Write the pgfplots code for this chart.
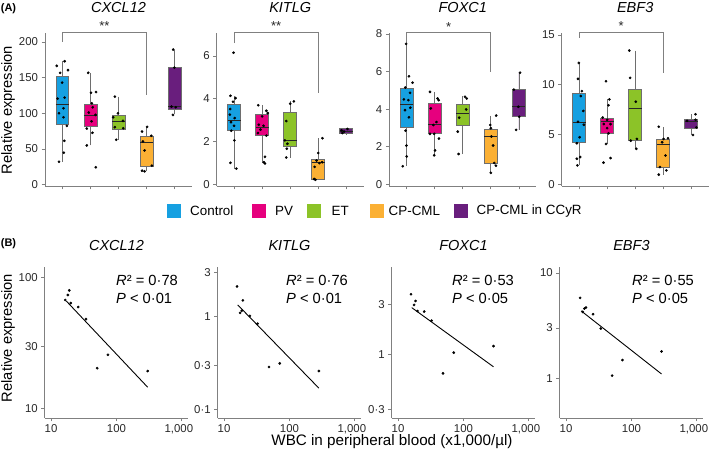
\documentclass[border=0pt]{standalone}
\usepackage{pgfplots}
\pgfplotsset{compat=1.18}
\usepgfplotslibrary{statistics}
\usepackage{fontspec}
\setmainfont{Liberation Sans}
\definecolor{ctrl}{RGB}{22,160,225}
\definecolor{pv}{RGB}{230,0,126}
\definecolor{et}{RGB}{140,195,40}
\definecolor{cml}{RGB}{251,176,52}
\definecolor{ccyr}{RGB}{105,30,125}
\definecolor{axgray}{RGB}{128,128,128}
\definecolor{boxgray}{RGB}{110,110,110}
\definecolor{tickc}{RGB}{40,40,40}
\newcommand\tickfont{\fontsize{11.4bp}{13bp}\selectfont}
\newcommand\titlefont{\fontsize{14.5bp}{17bp}\selectfont\itshape}
\newcommand\labfont{\fontsize{14.7bp}{17bp}\selectfont}
\newcommand\legfont{\fontsize{13.4bp}{16bp}\selectfont}
\newcommand\starfont{\fontsize{13bp}{15bp}\selectfont}
\pgfplotsset{
  myBase/.style={scale only axis, axis lines=left,
    axis line style={-, draw=axgray, line width=0.8bp},
    tick style={draw=axgray, line width=0.8bp}, tick align=outside,
    major tick length=3.5bp, clip=false,
    tick label style={font=\tickfont, text=tickc}},
  myA/.style={myBase, width=147bp, height=153bp, xmin=0.38, xmax=5.62,
    xtick={1,2,3,4,5}, xticklabels={},
    every axis title/.style={at={(0.5,1)}, anchor=center, font=\titlefont, yshift=25.5bp},
    boxplot/draw direction=y,
    boxplot/box extend=0.46, boxplot/whisker extend=0,
    boxplot/every median/.style={draw=black!85, line width=0.8bp},
    boxplot/every whisker/.style={draw=boxgray, line width=0.8bp},
    boxplot/every box/.style={draw=boxgray, line width=0.8bp}},
  myB/.style={myBase, width=143.5bp, height=151bp,
    xmin=8, xmax=1250, xtick={10,100,1000}, xticklabels={10,100,{1,000\kern6bp}},
    xminorticks=false, yminorticks=false,
    every axis title/.style={at={(0.5,1)}, anchor=center, font=\titlefont, yshift=21.5bp}},
  myDots/.style={only marks, mark=*, mark size=1.15bp, draw=black, fill=black},
  myFit/.style={black, line width=0.9bp, no marks},
}
\begin{document}
\begin{tikzpicture}
\path[use as bounding box] (0bp,0bp) rectangle (709bp,460bp);

% ================= Panel A =================
\begin{axis}[myA, at={(45bp,274bp)}, anchor=south west, title={CXCL12},
  ymin=-2, ymax=212.6, ytick={0,50,100,150,200}, yticklabels={0,50,100,150,200}]
\addplot[boxplot prepared={median=112.6, upper quartile=152, lower quartile=84.7, upper whisker=173, lower whisker=32, draw position=1}, fill=ctrl, draw=boxgray] coordinates {};
\addplot[boxplot prepared={median=97.2, upper quartile=112.6, lower quartile=81.4, upper whisker=156.7, lower whisker=54.9, draw position=2}, fill=pv, draw=boxgray] coordinates {};
\addplot[boxplot prepared={median=88.8, upper quartile=97.7, lower quartile=77.7, upper whisker=123.3, lower whisker=62.8, draw position=3}, fill=et, draw=boxgray] coordinates {};
\addplot[boxplot prepared={median=59.5, upper quartile=67.4, lower quartile=25.6, upper whisker=81.4, lower whisker=18.6, draw position=4}, fill=cml, draw=boxgray] coordinates {};
\addplot[boxplot prepared={median=109.3, upper quartile=163.7, lower quartile=106, upper whisker=189.3, lower whisker=98.6, draw position=5}, fill=ccyr, draw=boxgray] coordinates {};
\addplot[myDots] coordinates {(0.80,166.5)(1.08,173)(1.20,160.5)(0.92,156.7)(0.99,143)(1.08,122)(0.83,120.5)(1.04,107)(1.04,94.4)(0.88,100)(1.16,82.3)(1.07,61.4)(1.05,44.7)(0.88,32)};
\addplot[myDots] coordinates {(1.92,156.7)(2.02,128.8)(2.20,129.8)(2.05,114)(2.08,108.4)(1.94,101)(2.18,97.7)(2.04,88.8)(1.87,78.6)(2.07,72.6)(1.87,54.9)(2.19,24.2)};
\addplot[myDots] coordinates {(2.87,123.3)(2.98,100)(2.81,94.4)(3.16,89.3)(2.87,80.5)(2.92,62.8)(3.17,79)};
\addplot[myDots] coordinates {(4.02,81)(3.84,74.4)(4.17,68.4)(3.87,60.5)(3.93,47.9)(4.19,26.5)(3.93,18.6)(3.84,19.5)};
\addplot[myDots] coordinates {(4.95,189.3)(4.99,164)(4.89,109.3)(5.04,108.4)(4.94,97.7)};
\draw[axgray, line width=0.8bp] (axis cs:1,200) -- (axis cs:1,214) -- (axis cs:4,214) -- (axis cs:4,125.6);
\node[anchor=base, inner sep=0pt, font=\starfont, text=tickc, yshift=1bp] at (axis cs:2.5,214) {**};
\end{axis}

\begin{axis}[myA, at={(216.7bp,274bp)}, anchor=south west, title={KITLG},
  ymin=-0.07, ymax=7.07, ytick={0,2,4,6}, yticklabels={0,2,4,6}]
\addplot[boxplot prepared={median=2.98, upper quartile=3.75, lower quartile=2.53, upper whisker=4.14, lower whisker=0.74, draw position=1}, fill=ctrl, draw=boxgray] coordinates {};
\addplot[boxplot prepared={median=2.67, upper quartile=3.26, lower quartile=2.28, upper whisker=3.7, lower whisker=0.98, draw position=2}, fill=pv, draw=boxgray] coordinates {};
\addplot[boxplot prepared={median=2.05, upper quartile=3.36, lower quartile=1.78, upper whisker=3.88, lower whisker=1.24, draw position=3}, fill=et, draw=boxgray] coordinates {};
\addplot[boxplot prepared={median=1.04, upper quartile=1.15, lower quartile=0.26, upper whisker=2.16, lower whisker=0.22, draw position=4}, fill=cml, draw=boxgray] coordinates {};
\addplot[boxplot prepared={median=2.48, upper quartile=2.6, lower quartile=2.37, upper whisker=2.64, lower whisker=2.36, draw position=5}, fill=ccyr, draw=boxgray] coordinates {};
\addplot[myDots] coordinates {(0.98,6.15)(0.87,4.14)(1.05,4.03)(0.96,3.86)(0.86,3.52)(0.85,3.26)(1.02,3.1)(0.89,2.91)(1.0,2.74)(0.9,2.51)(1.01,2.06)(0.87,1.01)(1.08,0.74)};
\addplot[myDots] coordinates {(1.86,3.7)(2.15,3.44)(2.2,3.33)(2.0,3.18)(1.88,2.79)(2.05,2.74)(1.94,2.56)(1.85,2.4)(2.15,2.28)(2.1,1.29)(2.06,1.04)(2.1,0.98)};
\addplot[myDots] coordinates {(3.13,3.88)(3.0,3.77)(2.86,2.96)(2.81,2.06)(2.9,1.9)(2.88,1.67)(2.86,1.26)};
\addplot[myDots] coordinates {(4.15,2.16)(4.0,1.47)(3.94,1.12)(4.14,1.04)(4.04,1.0)(3.87,0.82)(3.85,0.26)(3.9,0.22)};
\addplot[myDots] coordinates {(4.83,2.53)(5.04,2.59)(4.92,2.47)(4.86,2.4)};
\draw[axgray, line width=0.8bp] (axis cs:1,6.6) -- (axis cs:1,7.12) -- (axis cs:4,7.12) -- (axis cs:4,4.27);
\node[anchor=base, inner sep=0pt, font=\starfont, text=tickc, yshift=1bp] at (axis cs:2.5,7.12) {**};
\end{axis}

\begin{axis}[myA, at={(389.3bp,274bp)}, anchor=south west, title={FOXC1},
  ymin=-0.08, ymax=8.05, ytick={0,2,4,6,8}, yticklabels={0,2,4,6,8}]
\addplot[boxplot prepared={median=4.25, upper quartile=5.1, lower quartile=3.04, upper whisker=7.47, lower whisker=0.97, draw position=1}, fill=ctrl, draw=boxgray] coordinates {};
\addplot[boxplot prepared={median=3.2, upper quartile=4.31, lower quartile=2.69, upper whisker=4.92, lower whisker=1.55, draw position=2}, fill=pv, draw=boxgray] coordinates {};
\addplot[boxplot prepared={median=3.78, upper quartile=4.25, lower quartile=3.13, upper whisker=4.69, lower whisker=1.62, draw position=3}, fill=et, draw=boxgray] coordinates {};
\addplot[boxplot prepared={median=2.55, upper quartile=2.95, lower quartile=1.14, upper whisker=3.66, lower whisker=0.62, draw position=4}, fill=cml, draw=boxgray] coordinates {};
\addplot[boxplot prepared={median=4.13, upper quartile=5.04, lower quartile=3.6, upper whisker=5.94, lower whisker=2.9, draw position=5}, fill=ccyr, draw=boxgray] coordinates {};
\addplot[myDots] coordinates {(0.98,7.47)(1.08,5.75)(1.21,5.41)(0.95,5.15)(1.12,4.87)(0.9,4.52)(1.06,4.48)(1.13,4.08)(0.94,3.95)(1.08,3.57)(0.96,2.86)(0.99,2.07)(1.0,1.49)(0.86,0.97)};
\addplot[myDots] coordinates {(1.83,4.92)(2.1,4.57)(2.14,4.48)(1.86,4.04)(2.06,3.32)(1.95,3.16)(1.83,2.69)(1.98,2.69)(2.15,2.44)(2.01,1.81)(1.98,1.55)};
\addplot[myDots] coordinates {(3.08,4.66)(3.14,4.57)(3.12,3.99)(2.87,3.55)(2.82,2.81)(2.85,1.62)};
\addplot[myDots] coordinates {(4.19,3.66)(3.98,3.16)(4.0,2.99)(4.02,2.55)(4.08,2.07)(4.12,1.14)(4.18,1.0)(4.0,0.62)};
\addplot[myDots] coordinates {(5.04,5.94)(4.82,5.04)(4.98,4.13)(5.01,3.6)(4.9,2.9)};
\draw[axgray, line width=0.8bp] (axis cs:1,7.52) -- (axis cs:1,8.1) -- (axis cs:4,8.1) -- (axis cs:4,5.99);
\node[anchor=base, inner sep=0pt, font=\starfont, text=tickc, yshift=1bp] at (axis cs:2.5,8.1) {*};
\end{axis}

\begin{axis}[myA, at={(561.7bp,274bp)}, anchor=south west, title={EBF3},
  ymin=-0.15, ymax=15.2, ytick={0,5,10,15}, yticklabels={0,5,10,15}]
\addplot[boxplot prepared={median=6.23, upper quartile=9.1, lower quartile=4.24, upper whisker=12.2, lower whisker=1.92, draw position=1}, fill=ctrl, draw=boxgray] coordinates {};
\addplot[boxplot prepared={median=6.32, upper quartile=6.66, lower quartile=5.17, upper whisker=8.54, lower whisker=4.07, draw position=2}, fill=pv, draw=boxgray] coordinates {};
\addplot[boxplot prepared={median=7.65, upper quartile=9.54, lower quartile=4.4, upper whisker=13.44, lower whisker=3.58, draw position=3}, fill=et, draw=boxgray] coordinates {};
\addplot[boxplot prepared={median=4.0, upper quartile=4.57, lower quartile=1.75, upper whisker=5.79, lower whisker=0.99, draw position=4}, fill=cml, draw=boxgray] coordinates {};
\addplot[boxplot prepared={median=6.29, upper quartile=6.56, lower quartile=5.63, upper whisker=7.05, lower whisker=4.97, draw position=5}, fill=ccyr, draw=boxgray] coordinates {};
\addplot[myDots] coordinates {(0.99,12.2)(0.96,10.6)(1.1,9.37)(1.06,8.87)(1.15,7.38)(0.96,6.29)(1.17,5.99)(1.02,4.74)(0.92,4.14)(1.04,2.75)(0.92,2.58)(0.94,1.92)};
\addplot[myDots] coordinates {(1.96,10.36)(2.08,8.54)(2.05,7.95)(1.84,6.72)(2.0,6.49)(2.12,6.06)(1.88,6.06)(2.0,5.66)(2.05,5.13)(1.96,4.07)(1.87,2.19)(2.12,2.65)};
\addplot[myDots] coordinates {(2.79,13.44)(2.82,10.7)(3.02,8.31)(3.06,4.57)(2.84,4.4)(3.04,3.58)};
\addplot[myDots] coordinates {(3.84,5.79)(4.17,4.64)(4.01,4.57)(3.96,4.24)(4.08,2.91)(3.88,1.75)(4.11,1.42)(3.84,0.99)};
\addplot[myDots] coordinates {(5.15,7.05)(4.85,6.39)(5.15,6.49)(5.18,5.73)(5.06,4.97)};
\draw[axgray, line width=0.8bp] (axis cs:1,14.7) -- (axis cs:1,15.3) -- (axis cs:4,15.3) -- (axis cs:4,11.19);
\node[anchor=base, inner sep=0pt, font=\starfont, text=tickc, yshift=1bp] at (axis cs:2.5,15.3) {*};
\end{axis}

% ================= Panel B =================
\begin{axis}[myB, xmode=log, ymode=log, at={(44.7bp,42bp)}, anchor=south west, title={CXCL12},
  ymin=8.5, ymax=120.7, ytick={10,30,100}, yticklabels={10,30,100}]
\addplot[myDots] coordinates {(16.5,67.6)(19,80)(18.1,73.8)(20,64)(26,59.7)(34.2,48.3)(74,25.8)(50.7,20.4)(300,19.4)};
\addplot[myFit] coordinates {(17.1,66.4)(300,14.6)};
\node[font=\fontsize{11bp}{13bp}\selectfont\bfseries, xshift=-36.2bp, yshift=23bp] at (rel axis cs:0,1) {(B)};
\end{axis}

\begin{axis}[myB, xmode=log, ymode=log, at={(217.7bp,42bp)}, anchor=south west, title={KITLG},
  ymin=0.0805, ymax=3.44, ytick={0.1,0.3,1,3}, yticklabels={0·1,0·3,1,3}]
\addplot[myDots] coordinates {(15.8,2.12)(19.4,1.50)(17.6,1.10)(18.7,1.16)(24.8,1.02)(32.6,0.84)(71,0.313)(48.7,0.286)(282,0.259)};
\addplot[myFit] coordinates {(16.2,1.34)(282,0.169)};
\end{axis}

\begin{axis}[myB, xmode=log, ymode=log, at={(391.7bp,42bp)}, anchor=south west, title={FOXC1},
  ymin=0.248, ymax=6.8, ytick={0.3,1,3}, yticklabels={0·3,1,3}]
\addplot[myDots] coordinates {(15.8,3.74)(18.5,3.23)(17.6,2.96)(19.8,2.59)(25.1,2.56)(32.6,2.10)(71,1.04)(48.7,0.66)(288,1.20)};
\addplot[myFit] coordinates {(16.2,2.79)(288,0.762)};
\end{axis}

\begin{axis}[myB, xmode=log, ymode=log, at={(559.7bp,42bp)}, anchor=south west, title={EBF3},
  ymin=0.42, ymax=11.4, ytick={1,3,10}, yticklabels={1,3,10}]
\addplot[myDots] coordinates {(16.4,5.8)(19.1,4.6)(20.2,4.7)(18,4.27)(25.9,4.06)(34,2.97)(72.8,1.49)(50.6,1.06)(288,1.80)};
\addplot[myFit] coordinates {(17,4.37)(288,1.10)};
\end{axis}

% ================= annotations =================
\begin{scope}[x=1bp, y=1bp]
\node[font=\fontsize{11bp}{13bp}\selectfont\bfseries] at (8.5,451.5) {(A)};
\node[font=\labfont, rotate=90] at (8,350) {Relative expression};
\node[font=\labfont, rotate=90] at (8,122) {Relative expression};
\node[font=\fontsize{15.2bp}{17bp}\selectfont] at (392,18) {WBC in peripheral blood (x1,000/µl)};
% legend
\fill[ctrl] (167,242.3) rectangle (180.5,255.8);
\node[font=\legfont, anchor=west, inner sep=0pt] at (190,249) {Control};
\fill[pv] (252,242.3) rectangle (265.5,255.8);
\node[font=\legfont, anchor=west, inner sep=0pt] at (275,249) {PV};
\fill[et] (307,242.3) rectangle (320.5,255.8);
\node[font=\legfont, anchor=west, inner sep=0pt] at (331.5,249) {ET};
\fill[cml] (370,242.3) rectangle (383.5,255.8);
\node[font=\legfont, anchor=west, inner sep=0pt] at (388.5,249) {CP-CML};
\fill[ccyr] (454,242.3) rectangle (467.5,255.8);
\node[font=\legfont, anchor=west, inner sep=0pt] at (476.5,249) {CP-CML in CCyR};
% R2 / P
\node[font=\labfont, anchor=base west, inner sep=0pt] at (116,175) {{\itshape R}² = 0·78};
\node[font=\labfont, anchor=base west, inner sep=0pt] at (116,157) {{\itshape P} < 0·01};
\node[font=\labfont, anchor=base west, inner sep=0pt] at (286,175) {{\itshape R}² = 0·76};
\node[font=\labfont, anchor=base west, inner sep=0pt] at (286,157) {{\itshape P} < 0·01};
\node[font=\labfont, anchor=base west, inner sep=0pt] at (452,175) {{\itshape R}² = 0·53};
\node[font=\labfont, anchor=base west, inner sep=0pt] at (452,157) {{\itshape P} < 0·05};
\node[font=\labfont, anchor=base west, inner sep=0pt] at (632,175) {{\itshape R}² = 0·55};
\node[font=\labfont, anchor=base west, inner sep=0pt] at (632,157) {{\itshape P} < 0·05};
\end{scope}
\end{tikzpicture}
\end{document}
